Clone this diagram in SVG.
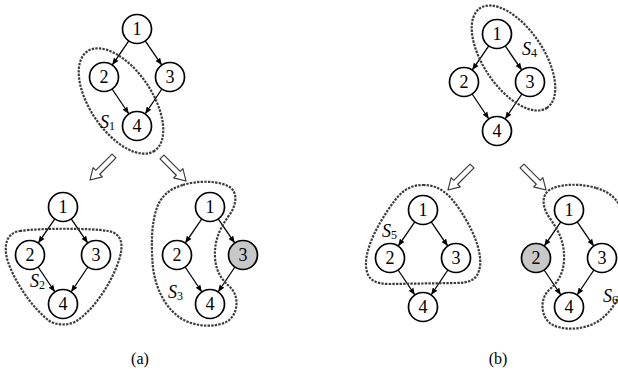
<svg xmlns="http://www.w3.org/2000/svg" xmlns:xlink="http://www.w3.org/1999/xlink" width="618" height="372" viewBox="0 0 618 372">
  <style>
    .node circle { fill: #ffffff; stroke: #000000; stroke-width: 1.7; }
    .node.hit circle { fill: #c8c8c8; }
    .node text { font-family: "Liberation Serif", "Times New Roman", serif; font-size: 18px; text-anchor: middle; fill: #000000; }
    .edge { stroke: #000000; stroke-width: 1.3; fill: none; marker-end: url(#ah); }
    .set { fill: none; stroke: #3c3c3c; stroke-width: 2.2; stroke-dasharray: 2.4 1.2; }
    .lbl { font-family: "Liberation Serif", "Times New Roman", serif; font-size: 18px; font-style: italic; fill: #000000; }
    .lbl tspan.sub { font-style: normal; font-size: 12px; }
    .step { fill: #ffffff; stroke: #333333; stroke-width: 1.1; stroke-linejoin: round; }
    .cap { font-family: "Liberation Serif", "Times New Roman", serif; font-size: 16px; text-anchor: middle; fill: #000000; }
  </style>
  <defs>
    <marker id="ah" viewBox="0 0 10 10" refX="10" refY="5" markerWidth="7" markerHeight="7" markerUnits="userSpaceOnUse" orient="auto">
      <path d="M0,1 L10,5 L0,9 Z" fill="#000000"/>
    </marker>
    <!-- four edges of the diamond DAG, node 1 at the origin -->
    <g id="dag-edges">
      <line class="edge" x1="-8.2" y1="11.9" x2="-24.8" y2="36.1"/>
      <line class="edge" x1="8.2" y1="11.9" x2="24.8" y2="36.1"/>
      <line class="edge" x1="-24.9" y1="60" x2="-8.1" y2="85"/>
      <line class="edge" x1="24.9" y1="60" x2="8.1" y2="85"/>
    </g>
    <!-- hollow step arrow pointing along +x -->
    <path id="step-arrow" d="M0,-2.8 L23,-2.8 L23,-6.5 L34,0 L23,6.5 L23,2.8 L0,2.8 Z"/>
    <!-- kidney-shaped set around nodes 1, 2, 4 -->
    <path id="kidney" d="M183,185 C195,181 215,180 228,186 C238,191 237,204 230,214 C220,228 214,240 215,258 C216,272 222,280 230,287 C239,295 239,313 228,321 C216,328 196,327 182,319 C166,309 156,290 153,268 C151,245 151,222 158,205 C163,194 172,188 183,185 Z"/>
  </defs>

  <!-- connectors -->
  <g id="connectors">
    <use xlink:href="#dag-edges" x="137" y="29"/>
    <use xlink:href="#dag-edges" x="63" y="207"/>
    <use xlink:href="#dag-edges" x="210" y="207"/>
    <use xlink:href="#dag-edges" x="497" y="34"/>
    <use xlink:href="#dag-edges" x="423" y="210"/>
    <use xlink:href="#dag-edges" x="569" y="210"/>
  </g>

  <!-- step arrows -->
  <g id="steps">
    <use xlink:href="#step-arrow" class="step" transform="translate(114,156) rotate(135)"/>
    <use xlink:href="#step-arrow" class="step" transform="translate(162,157) rotate(45)"/>
    <use xlink:href="#step-arrow" class="step" transform="translate(472,166) rotate(135)"/>
    <use xlink:href="#step-arrow" class="step" transform="translate(522,166) rotate(45)"/>
  </g>

  <!-- (a) top -->
  <g id="a-n1" class="node" transform="translate(137,29)"><circle r="14.5"/><text y="6.3">1</text></g>
  <g id="a-n2" class="node" transform="translate(104,77)"><circle r="14.5"/><text y="6.3">2</text></g>
  <g id="a-n3" class="node" transform="translate(170,77)"><circle r="14.5"/><text y="6.3">3</text></g>
  <g id="a-n4" class="node" transform="translate(137,126)"><circle r="14.5"/><text y="6.3">4</text></g>
  <g id="set-s1">
    <ellipse class="set" cx="0" cy="0" rx="60" ry="31" transform="translate(121,101) rotate(56)"/>
    <text class="lbl" x="100" y="128">S<tspan class="sub" dy="2">1</tspan></text>
  </g>

  <!-- (a) bottom left -->
  <g id="a2-n1" class="node" transform="translate(63,207)"><circle r="14.5"/><text y="6.3">1</text></g>
  <g id="a2-n2" class="node" transform="translate(30,255)"><circle r="14.5"/><text y="6.3">2</text></g>
  <g id="a2-n3" class="node" transform="translate(96,255)"><circle r="14.5"/><text y="6.3">3</text></g>
  <g id="a2-n4" class="node" transform="translate(63,304)"><circle r="14.5"/><text y="6.3">4</text></g>
  <g id="set-s2">
    <path class="set" d="M20,231 C40,228 90,228 108,231 C122,233 124,245 119,260 C112,282 95,308 78,320 C70,326 56,326 48,320 C31,306 15,282 8,262 C3,246 6,233 20,231 Z"/>
    <text class="lbl" x="30" y="287">S<tspan class="sub" dy="2">2</tspan></text>
  </g>

  <!-- (a) bottom right -->
  <g id="a3-n1" class="node" transform="translate(210,207)"><circle r="14.5"/><text y="6.3">1</text></g>
  <g id="a3-n2" class="node" transform="translate(177,255)"><circle r="14.5"/><text y="6.3">2</text></g>
  <g id="a3-n3" class="node hit" transform="translate(243,255)"><circle r="14.5"/><text y="6.3">3</text></g>
  <g id="a3-n4" class="node" transform="translate(210,304)"><circle r="14.5"/><text y="6.3">4</text></g>
  <g id="set-s3">
    <use xlink:href="#kidney" class="set"/>
    <text class="lbl" x="168" y="298">S<tspan class="sub" dy="2">3</tspan></text>
  </g>

  <!-- (b) top -->
  <g id="b-n1" class="node" transform="translate(497,34)"><circle r="14.5"/><text y="6.3">1</text></g>
  <g id="b-n2" class="node" transform="translate(464,82)"><circle r="14.5"/><text y="6.3">2</text></g>
  <g id="b-n3" class="node" transform="translate(530,82)"><circle r="14.5"/><text y="6.3">3</text></g>
  <g id="b-n4" class="node" transform="translate(497,131)"><circle r="14.5"/><text y="6.3">4</text></g>
  <g id="set-s4">
    <ellipse class="set" cx="0" cy="0" rx="60" ry="30" transform="translate(513.5,58) rotate(56)"/>
    <text class="lbl" x="522" y="55">S<tspan class="sub" dy="2">4</tspan></text>
  </g>

  <!-- (b) bottom left -->
  <g id="b5-n1" class="node" transform="translate(423,210)"><circle r="14.5"/><text y="6.3">1</text></g>
  <g id="b5-n2" class="node" transform="translate(390,258)"><circle r="14.5"/><text y="6.3">2</text></g>
  <g id="b5-n3" class="node" transform="translate(456,258)"><circle r="14.5"/><text y="6.3">3</text></g>
  <g id="b5-n4" class="node" transform="translate(423,307)"><circle r="14.5"/><text y="6.3">4</text></g>
  <g id="set-s5">
    <path class="set" d="M423,185 C440,185 450,195 460,210 C470,225 482,248 480,266 C478,280 470,283 455,283 L390,284 C375,284 367,280 366,266 C365,248 378,225 388,210 C398,195 406,185 423,185 Z"/>
    <text class="lbl" x="382" y="237">S<tspan class="sub" dy="2">5</tspan></text>
  </g>

  <!-- (b) bottom right -->
  <g id="b6-n1" class="node" transform="translate(569,210)"><circle r="14.5"/><text y="6.3">1</text></g>
  <g id="b6-n2" class="node hit" transform="translate(536,258)"><circle r="14.5"/><text y="6.3">2</text></g>
  <g id="b6-n3" class="node" transform="translate(602,258)"><circle r="14.5"/><text y="6.3">3</text></g>
  <g id="b6-n4" class="node" transform="translate(569,307)"><circle r="14.5"/><text y="6.3">4</text></g>
  <g id="set-s6">
    <use xlink:href="#kidney" class="set" transform="translate(779,3) scale(-1,1)"/>
    <text class="lbl" x="603" y="302">S<tspan class="sub" dy="2">6</tspan></text>
  </g>

  <!-- captions -->
  <text class="cap" x="140" y="364">(a)</text>
  <text class="cap" x="498" y="364">(b)</text>
</svg>
